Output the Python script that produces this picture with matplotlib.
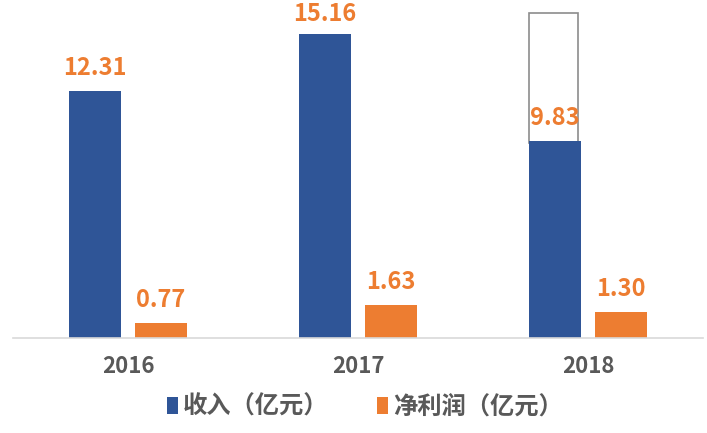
import numpy as np
import matplotlib.pyplot as plt
from matplotlib.patches import Rectangle

plt.rcParams['font.family'] = ['Noto Sans CJK SC', 'DejaVu Sans']

years   = ['2016', '2017', '2018']
revenue = [12.31, 15.16, 9.83]
profit  = [0.77, 1.63, 1.30]
series_names = ['收入（亿元）', '净利润（亿元）']

# 2018 年收入柱上方的空心框（顶端约 16.2）
outline_top = 16.2

blue   = '#2F5597'
orange = '#ED7D31'
gray   = '#595959'

fig = plt.figure(figsize=(7.07, 4.33), dpi=100)
ax = fig.add_axes([13 / 707, 95 / 433, 690 / 707, 338 / 433])

x = np.arange(len(years))
width  = 0.226
offset = 0.1435
ytop = 16.86

b1 = ax.bar(x - offset, revenue, width, color=blue, label=series_names[0], zorder=2)
b2 = ax.bar(x + offset, profit, width, color=orange, label=series_names[1], zorder=2)

# 空心框（画在柱子下面，底边被柱子盖住）
ax.add_patch(Rectangle((x[2] - offset - width / 2, revenue[2] - 0.1),
                       width * 0.95, outline_top - revenue[2] + 0.1,
                       fill=False, edgecolor='#8C8C8C', linewidth=1.2, zorder=1))

# 数据标签：柱顶上方约 1.15，超出图区时往下压
for bars, vals in ((b1, revenue), (b2, profit)):
    for bar, v in zip(bars, vals):
        ty = min(v + 1.15, ytop - 0.7)
        ax.text(bar.get_x() + bar.get_width() / 2, ty, f'{v:.2f}',
                ha='center', va='center', color=orange,
                fontsize=17, fontweight='bold', zorder=4)

ax.set_xlim(-0.5, 2.5)
ax.set_ylim(0, ytop)
ax.set_xticks(x)
ax.set_xticklabels(years, fontsize=16, color=gray, fontweight='bold')
ax.tick_params(axis='x', length=0, pad=12)
ax.set_yticks([])

for s in ['top', 'right', 'left']:
    ax.spines[s].set_visible(False)
ax.spines['bottom'].set_color('#D9D9D9')
ax.spines['bottom'].set_linewidth(1.2)

leg = fig.legend(handles=[b1, b2], loc='center', bbox_to_anchor=(0.516, 26 / 433),
                 ncol=2, frameon=False, handlelength=0.45,
                 handleheight=0.65, handletextpad=0.2, columnspacing=2.0,
                 prop={'weight': 'bold', 'size': 17.5})
for t in leg.get_texts():
    t.set_color(gray)

fig.savefig('out.png', dpi=100)
